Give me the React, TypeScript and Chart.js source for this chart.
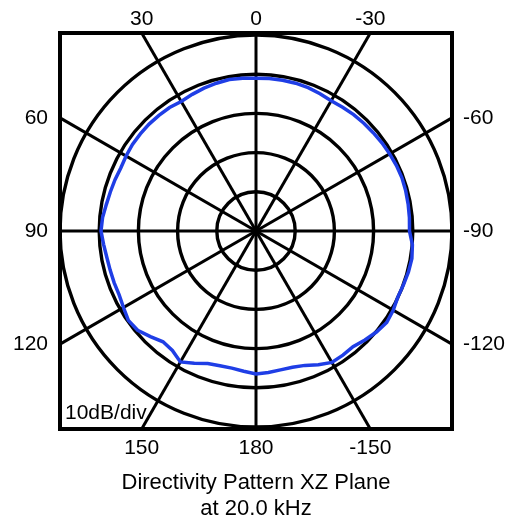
import React, { useEffect, useRef } from "react";
import { Chart, registerables } from "chart.js";

Chart.register(...registerables);

// Angles (deg) of each sample, listed clockwise starting at the top
const angleLabels: string[] = [
  "0", "-5", "-10", "-15", "-20", "-25", "-30", "-35", "-40", "-45", "-50", "-55",
  "-60", "-65", "-70", "-75", "-80", "-85", "-90", "-95", "-100", "-105", "-110", "-115",
  "-120", "-125", "-130", "-135", "-140", "-145", "-150", "-155", "-160", "-165", "-170", "-175",
  "180", "175", "170", "165", "160", "155", "150", "145", "140", "135", "130", "125",
  "120", "115", "110", "105", "100", "95", "90", "85", "80", "75", "70", "65",
  "60", "55", "50", "45", "40", "35", "30", "25", "20", "15", "10", "5",
];

// Level in dB (relative) at each angle above
const levelsDb: number[] = [
  -11.05, -10.97, -10.97, -10.97, -11.1, -11.35, -11.66, -11.48, -11.25, -11.1, -10.97, -10.79,
  -10.64, -10.46, -10.38, -10.46, -10.59, -10.71, -10.84, -9.95, -9.62, -9.74, -9.95, -10.08,
  -9.59, -9.29, -9.9, -10.71, -11.5, -11.35, -11.28, -12.37, -13.52, -14.03, -14.03, -13.78,
  -13.52, -14.1, -14.49, -14.41, -14.0, -12.75, -11.43, -12.81, -13.1, -11.9, -10.59, -10.25,
  -10.97, -11.48, -11.48, -11.48, -11.35, -10.97, -10.46, -10.71, -11.22, -11.53, -11.73, -11.94,
  -11.73, -11.53, -11.48, -11.43, -11.48, -11.56, -11.84, -11.53, -11.22, -10.97, -10.77, -10.89,
];

// Labels of the spokes every 30 degrees, clockwise from the top
const spokeLabels: string[] = ["0", "-30", "-60", "-90", "-120", "-150", "180", "150", "120", "90", "60", "30"];

const scaleMinDb = -50;
const scaleMaxDb = 0;
const dbPerDiv = 10;
const divLabel = "10dB/div";
const titleLines: string[] = ["Directivity Pattern XZ Plane", "at 20.0 kHz"];

const FONT = '"Liberation Sans", Arial, Helvetica, sans-serif';

function spokeGeometry(chart: any) {
  const area = chart.chartArea;
  const r = chart.scales.r;
  const cx = r.xCenter;
  const cy = r.yCenter;
  const step = angleLabels.length / spokeLabels.length;
  return spokeLabels.map((label, k) => {
    const p = r.getPointPositionForValue(k * step, scaleMaxDb);
    let dx = p.x - cx;
    let dy = p.y - cy;
    const len = Math.hypot(dx, dy) || 1;
    dx /= len;
    dy /= len;
    const eps = 1e-6;
    const tx = dx > eps ? (area.right - cx) / dx : dx < -eps ? (area.left - cx) / dx : Infinity;
    const ty = dy > eps ? (area.bottom - cy) / dy : dy < -eps ? (area.top - cy) / dy : Infinity;
    const t = Math.min(tx, ty);
    const side = tx < ty ? (dx > 0 ? "right" : "left") : dy > 0 ? "bottom" : "top";
    return { label, cx, cy, ex: cx + dx * t, ey: cy + dy * t, side };
  });
}

const polarFrame = {
  id: "polarFrame",
  beforeDatasetsDraw(chart: any) {
    const { ctx, chartArea } = chart;
    ctx.save();
    ctx.strokeStyle = "#000";
    ctx.lineCap = "butt";
    ctx.lineWidth = 3;
    for (const s of spokeGeometry(chart)) {
      ctx.beginPath();
      ctx.moveTo(s.cx, s.cy);
      ctx.lineTo(s.ex, s.ey);
      ctx.stroke();
    }
    ctx.lineWidth = 4;
    ctx.strokeRect(chartArea.left, chartArea.top, chartArea.right - chartArea.left, chartArea.bottom - chartArea.top);
    ctx.restore();
  },
  afterDraw(chart: any) {
    const { ctx, chartArea } = chart;
    ctx.save();
    ctx.fillStyle = "#000";
    ctx.font = `21px ${FONT}`;
    ctx.textBaseline = "middle";
    for (const s of spokeGeometry(chart)) {
      if (s.side === "top") {
        ctx.textAlign = "center";
        ctx.fillText(s.label, s.ex, chartArea.top - 14);
      } else if (s.side === "bottom") {
        ctx.textAlign = "center";
        ctx.fillText(s.label, s.ex, chartArea.bottom + 19);
      } else if (s.side === "left") {
        ctx.textAlign = "right";
        ctx.fillText(s.label, chartArea.left - 12, s.ey);
      } else {
        ctx.textAlign = "left";
        ctx.fillText(s.label, chartArea.right + 11, s.ey);
      }
    }
    ctx.textAlign = "left";
    ctx.fillText(divLabel, chartArea.left + 5, chartArea.bottom - 16);
    ctx.textAlign = "center";
    ctx.font = `22px ${FONT}`;
    const mid = (chartArea.left + chartArea.right) / 2;
    ctx.fillText(titleLines[0], mid, chartArea.bottom + 54);
    ctx.fillText(titleLines[1], mid, chartArea.bottom + 80);
    ctx.restore();
  },
};

export default function App() {
  const canvasRef = useRef<HTMLCanvasElement | null>(null);

  useEffect(() => {
    const canvas = canvasRef.current;
    if (!canvas) return;
    const chart = new Chart(canvas, {
      type: "radar",
      data: {
        labels: angleLabels,
        datasets: [
          {
            label: "XZ",
            data: levelsDb,
            borderColor: "#1f3ee6",
            backgroundColor: "rgba(0,0,0,0)",
            borderWidth: 3.5,
            fill: false,
            pointRadius: 0,
            pointHoverRadius: 0,
            tension: 0,
          },
        ],
      },
      options: {
        animation: false,
        responsive: false,
        maintainAspectRatio: false,
        layout: { padding: { left: 60, right: 76, top: 33, bottom: 90 } },
        plugins: {
          legend: { display: false },
          tooltip: { enabled: false },
          title: { display: false },
        },
        scales: {
          r: {
            min: scaleMinDb,
            max: scaleMaxDb,
            ticks: { display: false, stepSize: dbPerDiv },
            grid: { circular: true, color: "#000", lineWidth: 3.4 },
            angleLines: { display: false },
            pointLabels: { display: false },
          },
        },
      },
      plugins: [polarFrame],
    });
    return () => chart.destroy();
  }, []);

  return (
    <div style={{ position: "fixed", left: 0, top: 0, width: 528, height: 519, background: "#fff" }}>
      <canvas ref={canvasRef} width={528} height={519} style={{ display: "block" }} />
    </div>
  );
}
